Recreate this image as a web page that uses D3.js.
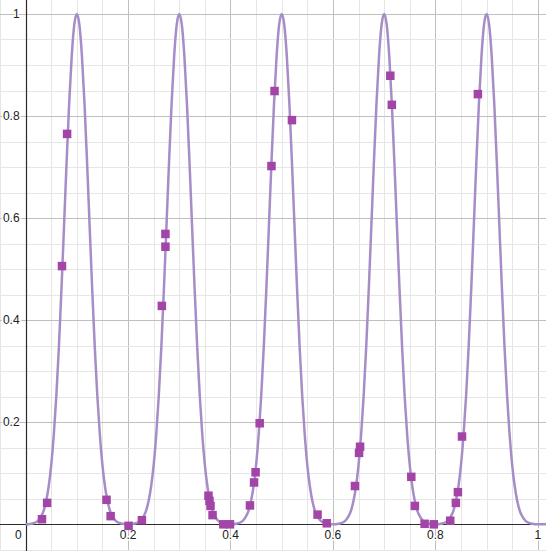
<!DOCTYPE html>
<html>
<head>
<meta charset="utf-8">
<script src="https://cdn.jsdelivr.net/npm/d3@7"></script>
<style>
  html, body { margin: 0; padding: 0; background: #fff; }
  svg { display: block; }
  text { font-family: "Liberation Sans", Arial, sans-serif; font-size: 12px; fill: #222; }
</style>
</head>
<body>
<div id="chart"></div>
<script>
// curve samples, one every 0.005 from x = 0 to 1.02
var curveStep = 0.005;
var curveY = [
  0, 0, .001, .002, .004, .008, .015, .026, .045, .074, .116, .175, .252, .348, .461, .584, .709, .824, .917, .979,
  1, .979, .917, .824, .709, .584, .461, .348, .252, .175, .116, .074, .045, .026, .015, .008, .004, .002, .001, 0,
  0, 0, .001, .002, .004, .008, .015, .026, .045, .074, .116, .175, .252, .348, .461, .584, .709, .824, .917, .979,
  1, .979, .917, .824, .709, .584, .461, .348, .252, .175, .116, .074, .045, .026, .015, .008, .004, .002, .001, 0,
  0, 0, .001, .002, .004, .008, .015, .026, .045, .074, .116, .175, .252, .348, .461, .584, .709, .824, .917, .979,
  1, .979, .917, .824, .709, .584, .461, .348, .252, .175, .116, .074, .045, .026, .015, .008, .004, .002, .001, 0,
  0, 0, .001, .002, .004, .008, .015, .026, .045, .074, .116, .175, .252, .348, .461, .584, .709, .824, .917, .979,
  1, .979, .917, .824, .709, .584, .461, .348, .252, .175, .116, .074, .045, .026, .015, .008, .004, .002, .001, 0,
  0, 0, .001, .002, .004, .008, .015, .026, .045, .074, .116, .175, .252, .348, .461, .584, .709, .824, .917, .979,
  1, .979, .917, .824, .709, .584, .461, .348, .252, .175, .116, .074, .045, .026, .015, .008, .004, .002, .001, 0,
  0, 0, 0, 0, 0
];

// sample points
var ptsX = [0.032, 0.042, 0.071, 0.081, 0.158, 0.166, 0.201, 0.227, 0.266, 0.273,
            0.273, 0.357, 0.359, 0.361, 0.365, 0.386, 0.399, 0.438, 0.446, 0.449,
            0.457, 0.480, 0.486, 0.520, 0.570, 0.588, 0.643, 0.651, 0.653, 0.712,
            0.715, 0.753, 0.760, 0.779, 0.797, 0.829, 0.840, 0.844, 0.852, 0.883];
var ptsY = [0.010, 0.042, 0.506, 0.765, 0.048, 0.016, -0.003, 0.008, 0.428, 0.544,
            0.569, 0.056, 0.046, 0.036, 0.018, 0, 0, 0.037, 0.082, 0.102,
            0.198, 0.702, 0.849, 0.792, 0.019, 0.002, 0.075, 0.140, 0.152, 0.879,
            0.822, 0.093, 0.036, 0.001, 0, 0.007, 0.042, 0.063, 0.172, 0.843];

// tick labels
var xTicks = [0.2, 0.4, 0.6, 0.8, 1];
var yTicks = [0.2, 0.4, 0.6, 0.8, 1];
var minorStep = 0.05;

var width = 546, height = 551;

var svg = d3.select("#chart").append("svg")
    .attr("width", width)
    .attr("height", height);

var x = d3.scaleLinear().domain([-0.05, 1.016]).range([0, width]);
var y = d3.scaleLinear().domain([-0.0523, 1.0274]).range([height, 0]);

// grid
var minor = d3.range(-1, 21).map(i => +(i * minorStep).toFixed(2));
var grid = svg.append("g");
grid.selectAll(".vminor").data(minor).enter().append("line")
    .attr("x1", d => Math.round(x(d)) + 0.5).attr("x2", d => Math.round(x(d)) + 0.5)
    .attr("y1", 0).attr("y2", height)
    .attr("stroke", d => Math.abs(d / 0.2 - Math.round(d / 0.2)) < 1e-6 ? "#bfbfbf" : "#e6e6e6");
grid.selectAll(".hminor").data(minor).enter().append("line")
    .attr("y1", d => Math.round(y(d)) + 0.5).attr("y2", d => Math.round(y(d)) + 0.5)
    .attr("x1", 0).attr("x2", width)
    .attr("stroke", d => Math.abs(d / 0.2 - Math.round(d / 0.2)) < 1e-6 ? "#bfbfbf" : "#e6e6e6");

// axes
svg.append("line")
    .attr("x1", 0).attr("x2", width)
    .attr("y1", Math.round(y(0)) + 0.5).attr("y2", Math.round(y(0)) + 0.5)
    .attr("stroke", "#2b2b2b").attr("stroke-width", 1.2);
svg.append("line")
    .attr("y1", 0).attr("y2", height)
    .attr("x1", Math.round(x(0)) + 0.5).attr("x2", Math.round(x(0)) + 0.5)
    .attr("stroke", "#2b2b2b").attr("stroke-width", 1.2);

// tick labels with white halo
var labels = svg.append("g")
    .attr("stroke", "#fff").attr("stroke-width", 3)
    .attr("paint-order", "stroke").attr("stroke-linejoin", "round");
labels.selectAll(".xl").data(xTicks).enter().append("text")
    .attr("x", d => x(d))
    .attr("y", y(0) + 15)
    .attr("text-anchor", "middle")
    .text(d => d);
labels.selectAll(".yl").data(yTicks).enter().append("text")
    .attr("x", x(0) - 6)
    .attr("y", d => y(d))
    .attr("dy", "0.35em")
    .attr("text-anchor", "end")
    .text(d => d);
labels.append("text")
    .attr("x", x(0) - 4)
    .attr("y", y(0) + 15)
    .attr("text-anchor", "end")
    .text("0");

// curve
var line = d3.line()
    .x((d, i) => x(i * curveStep))
    .y(d => y(d))
    .curve(d3.curveMonotoneX);
svg.append("path")
    .datum(curveY)
    .attr("fill", "none")
    .attr("stroke", "#a68dc8")
    .attr("stroke-width", 2.5)
    .attr("d", line);

// points
var ms = 8.5;
svg.append("g").selectAll("rect")
    .data(ptsX)
    .enter().append("rect")
    .attr("x", (d, i) => x(d) - ms / 2)
    .attr("y", (d, i) => y(ptsY[i]) - ms / 2)
    .attr("width", ms)
    .attr("height", ms)
    .attr("fill", "#a245a7");
</script>
</body>
</html>
